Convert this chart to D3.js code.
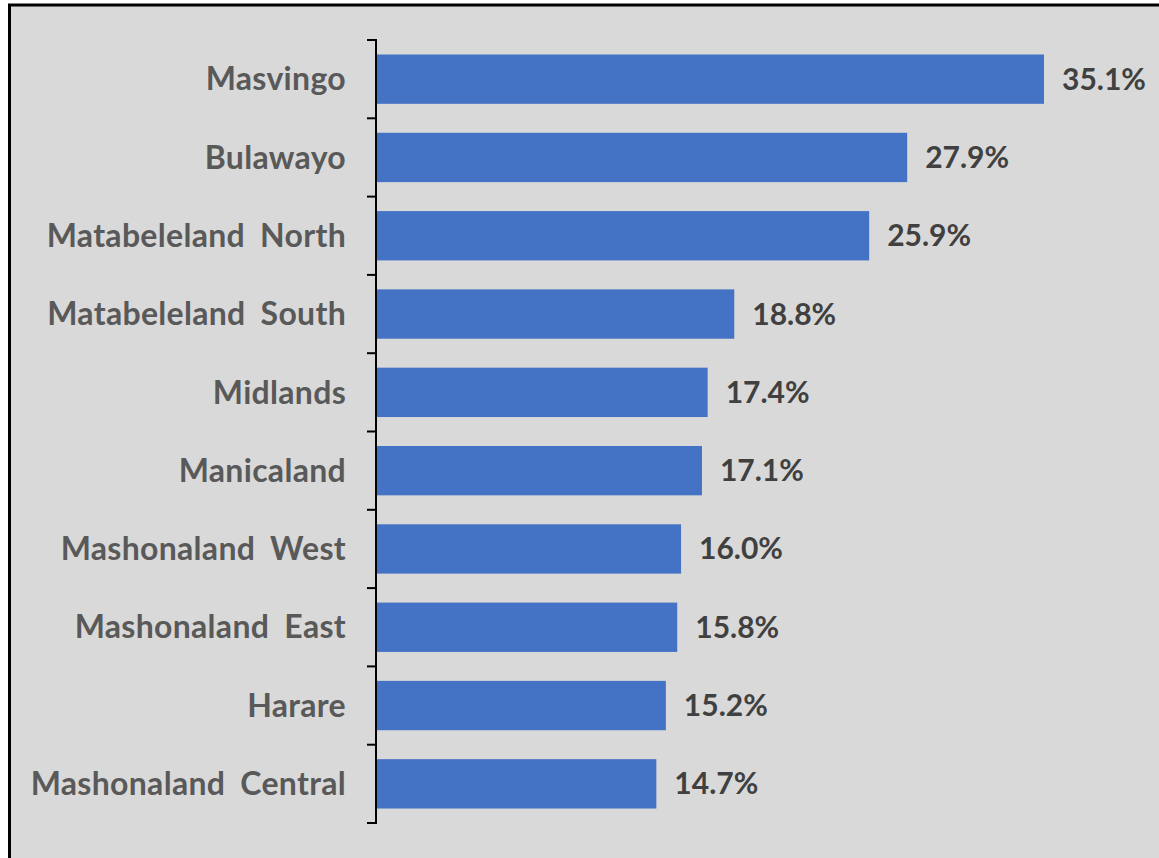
<!DOCTYPE html>
<html>
<head>
<meta charset="utf-8">
<script src="https://cdn.jsdelivr.net/npm/d3@7"></script>
<style>
  body { margin: 0; background: #fff; }
  svg { display: block; }
</style>
</head>
<body>
<div id="chart"></div>
<script>
    var regions = ['Masvingo', 'Bulawayo', 'Matabeleland North', 'Matabeleland South', 'Midlands',
        'Manicaland', 'Mashonaland West', 'Mashonaland East', 'Harare', 'Mashonaland Central'];
    var percents = [35.1, 27.9, 25.9, 18.8, 17.4, 17.1, 16.0, 15.8, 15.2, 14.7];

    var width = 1159;
    var height = 858;
    var axisX = 376;
    var yTop = 40, yBottom = 823;

    var svg = d3.select('#chart')
        .append('svg')
        .attr('width', width)
        .attr('height', height);

    // gray panel with black frame (only left/top edges visible)
    svg.append('rect')
        .attr('x', 9.5).attr('y', 5)
        .attr('width', width + 20).attr('height', height + 20)
        .attr('fill', '#d9d9d9')
        .attr('stroke', '#000')
        .attr('stroke-width', 3);

    var y = d3.scaleBand()
        .domain(regions)
        .range([yTop, yBottom])
        .paddingInner(0.37)
        .paddingOuter(0.185);

    var x = d3.scaleLinear()
        .domain([0, 35.1])
        .range([axisX + 1, 1044]);

    svg.selectAll('.bar')
        .data(regions)
        .enter()
        .append('rect')
        .attr('class', 'bar')
        .attr('x', x(0))
        .attr('y', function(d) { return y(d); })
        .attr('width', function(d, i) { return x(percents[i]) - x(0); })
        .attr('height', y.bandwidth())
        .attr('fill', '#4472c4');

    // axis line with ticks at band boundaries
    var step = (yBottom - yTop) / regions.length;
    svg.append('line')
        .attr('x1', axisX).attr('x2', axisX)
        .attr('y1', yTop).attr('y2', yBottom)
        .attr('stroke', '#000').attr('stroke-width', 2);

    svg.selectAll('.tick')
        .data(d3.range(regions.length + 1))
        .enter()
        .append('line')
        .attr('class', 'tick')
        .attr('x1', axisX - 9).attr('x2', axisX + 1)
        .attr('y1', function(i) { return yTop + i * step; })
        .attr('y2', function(i) { return yTop + i * step; })
        .attr('stroke', '#000').attr('stroke-width', 2);

    svg.selectAll('.cat')
        .data(regions)
        .enter()
        .append('text')
        .attr('class', 'cat')
        .attr('x', 346)
        .attr('y', function(d) { return y(d) + y.bandwidth() / 2; })
        .attr('dy', '0.35em')
        .attr('text-anchor', 'end')
        .attr('font-family', 'Lato, "Open Sans", sans-serif')
        .attr('font-weight', 'bold')
        .attr('font-size', '32px')
        .attr('letter-spacing', '0.3px')
        .attr('word-spacing', '7px')
        .attr('fill', '#595959')
        .text(function(d) { return d; });

    svg.selectAll('.val')
        .data(regions)
        .enter()
        .append('text')
        .attr('class', 'val')
        .attr('x', function(d, i) { return x(percents[i]) + 18; })
        .attr('y', function(d) { return y(d) + y.bandwidth() / 2; })
        .attr('dy', '0.35em')
        .attr('font-family', 'Lato, "Open Sans", sans-serif')
        .attr('font-weight', 'bold')
        .attr('font-size', '30px')
        .attr('fill', '#404040')
        .text(function(d, i) { return percents[i].toFixed(1) + '%'; });
</script>
</body>
</html>
